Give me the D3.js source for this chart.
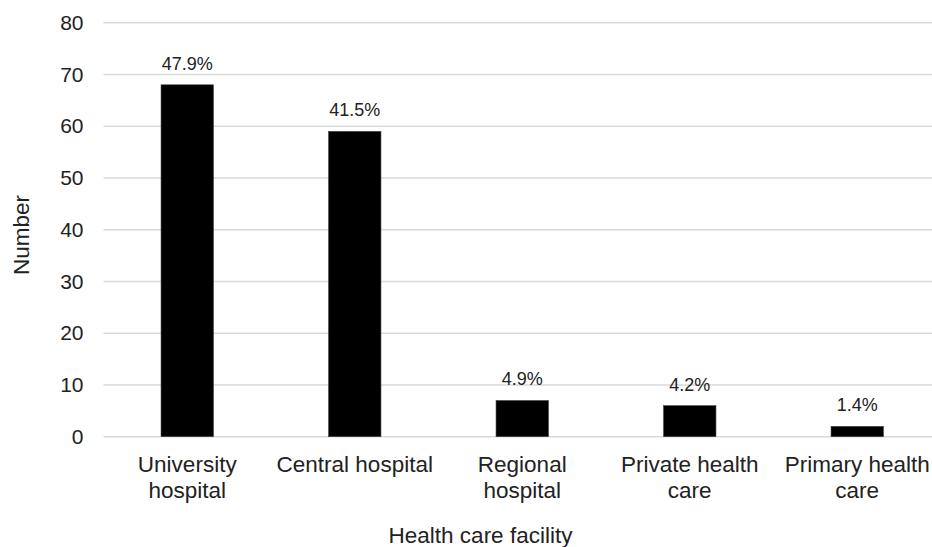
<!DOCTYPE html>
<html>
<head>
<meta charset="utf-8">
<script src="https://cdn.jsdelivr.net/npm/d3@7"></script>
<style>
  body { margin: 0; background: #fff; }
  text { font-family: "Liberation Sans", Arial, sans-serif; fill: #222; }
</style>
</head>
<body>
<svg id="chart" width="932" height="547"></svg>
<script>
// data
var categories = ["University hospital", "Central hospital", "Regional hospital", "Private health care", "Primary health care"];
var categoryLines = [["University", "hospital"], ["Central hospital"], ["Regional", "hospital"], ["Private health", "care"], ["Primary health", "care"]];
var counts = [68, 59, 7, 6, 2];
var percentLabels = ["47.9%", "41.5%", "4.9%", "4.2%", "1.4%"];
var yTicks = [0, 10, 20, 30, 40, 50, 60, 70, 80];

var svg = d3.select("#chart");

var plotLeft = 103.5, plotRight = 941, plotTop = 22.7, plotBottom = 436.7;

var xScale = d3.scaleBand()
    .domain(categories)
    .range([plotLeft, plotRight])
    .paddingInner(0.687)
    .paddingOuter(0.3435);

var yScale = d3.scaleLinear()
    .domain([0, 80])
    .range([plotBottom, plotTop]);

// gridlines
svg.append("g").attr("class", "grid")
  .selectAll("line")
  .data(yTicks)
  .join("line")
    .attr("x1", plotLeft)
    .attr("x2", plotRight)
    .attr("y1", d => yScale(d))
    .attr("y2", d => yScale(d))
    .attr("stroke", "#d9d9d9")
    .attr("stroke-width", 1.5);

// y axis labels
var gY = svg.append("g")
    .attr("transform", "translate(" + (plotLeft - 9) + ",0)")
    .call(d3.axisLeft(yScale).tickValues(yTicks).tickSize(0).tickPadding(11));
gY.select(".domain").remove();
gY.selectAll("text")
    .style("font-size", "21px")
    .style("font-family", "Liberation Sans, Arial, sans-serif")
    .attr("fill", "#222");

// bars
svg.append("g").attr("class", "bars")
  .selectAll("rect")
  .data(counts)
  .join("rect")
    .attr("x", (d, i) => xScale(categories[i]))
    .attr("y", d => yScale(d))
    .attr("width", xScale.bandwidth())
    .attr("height", d => yScale(0) - yScale(d))
    .attr("fill", "#000")
    .attr("stroke", "#444")
    .attr("stroke-width", 0.6);

// value labels
svg.append("g").attr("class", "values")
  .selectAll("text")
  .data(counts)
  .join("text")
    .attr("x", (d, i) => xScale(categories[i]) + xScale.bandwidth() / 2)
    .attr("y", d => yScale(d) - 15)
    .attr("text-anchor", "middle")
    .style("font-size", "18px")
    .text((d, i) => percentLabels[i]);

// category labels
var cat = svg.append("g").attr("class", "cats")
  .selectAll("text")
  .data(categories)
  .join("text")
    .attr("x", d => xScale(d) + xScale.bandwidth() / 2)
    .attr("y", 471.5)
    .attr("text-anchor", "middle")
    .style("font-size", "22.5px");

cat.selectAll("tspan")
  .data((d, i) => categoryLines[i])
  .join("tspan")
    .attr("x", function () { return d3.select(this.parentNode).attr("x"); })
    .attr("dy", (d, i) => i === 0 ? 0 : 26)
    .text(d => d);

// axis titles
svg.append("text")
    .attr("x", 480.5)
    .attr("y", 543)
    .attr("text-anchor", "middle")
    .style("font-size", "22.5px")
    .text("Health care facility");

svg.append("text")
    .attr("transform", "translate(29,235) rotate(-90)")
    .attr("text-anchor", "middle")
    .style("font-size", "22.5px")
    .text("Number");
</script>
</body>
</html>
